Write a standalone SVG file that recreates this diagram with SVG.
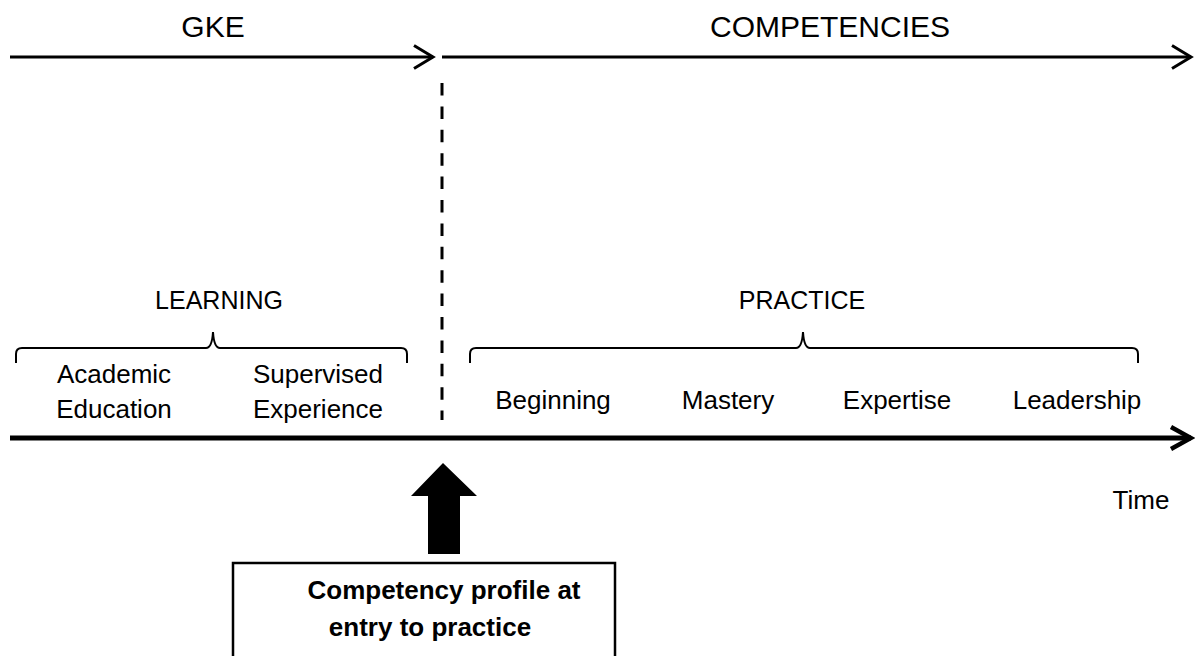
<svg xmlns="http://www.w3.org/2000/svg" width="1195" height="656" viewBox="0 0 1195 656">
  <style>
    .t { font-family: "Liberation Sans", Arial, sans-serif; fill: #000; text-anchor: middle; }
    .h { font-size: 30px; }
    .m { font-size: 25px; }
    .s { font-size: 26px; }
    .b { font-size: 26px; font-weight: bold; }
    .ln { fill: none; stroke: #000; }
    .brace { fill: none; stroke: #000; stroke-width: 2; }
  </style>
  <defs>
    <marker id="chevTop" markerUnits="userSpaceOnUse" markerWidth="40" markerHeight="40" refX="0" refY="0" orient="auto" overflow="visible">
      <path d="M-19,-11.5 L0,0 L-19,11.5" fill="none" stroke="#000" stroke-width="3"/>
    </marker>
    <marker id="chevAxis" markerUnits="userSpaceOnUse" markerWidth="40" markerHeight="40" refX="0" refY="0" orient="auto" overflow="visible">
      <path d="M-20,-11 L0,0 L-20,11" fill="none" stroke="#000" stroke-width="4.5"/>
    </marker>
  </defs>
  <rect width="1195" height="656" fill="#fff"/>

  <g id="connectors">
    <path class="ln" d="M10,57 L433,57" stroke-width="3" marker-end="url(#chevTop)"/>
    <path class="ln" d="M442,57 L1191,57" stroke-width="3" marker-end="url(#chevTop)"/>
    <path class="ln" d="M10,438 L1191,438" stroke-width="5" marker-end="url(#chevAxis)"/>
    <path class="ln" d="M442,83 L442,420" stroke-width="3" stroke-dasharray="12.5 10.9"/>
    <polygon id="entry-arrow" points="443,463 477,496 460,496 460,554 428,554 428,496 411,496" fill="#000"/>
  </g>

  <g id="title-gke">
    <text class="t h" x="213" y="37">GKE</text>
  </g>
  <g id="title-competencies">
    <text class="t h" x="830" y="37">COMPETENCIES</text>
  </g>

  <g id="learning">
    <text class="t m" x="219" y="309">LEARNING</text>
    <path class="brace" d="M16,363 L16,354 Q16,348 22,348 L206,348 Q212,348 213,332 Q214,348 220,348 L401,348 Q407,348 407,354 L407,363"/>
  </g>
  <g id="practice">
    <text class="t m" x="802" y="309">PRACTICE</text>
    <path class="brace" d="M470,363 L470,354 Q470,348 476,348 L796,348 Q802,348 803,332 Q804,348 810,348 L1132,348 Q1138,348 1138,354 L1138,363"/>
  </g>

  <g id="academic-education">
    <text class="t s" x="114" y="383">Academic</text>
    <text class="t s" x="114" y="418">Education</text>
  </g>
  <g id="supervised-experience">
    <text class="t s" x="318" y="383">Supervised</text>
    <text class="t s" x="318" y="418">Experience</text>
  </g>
  <g id="beginning">
    <text class="t s" x="553" y="409">Beginning</text>
  </g>
  <g id="mastery">
    <text class="t s" x="728" y="409">Mastery</text>
  </g>
  <g id="expertise">
    <text class="t s" x="897" y="409">Expertise</text>
  </g>
  <g id="leadership">
    <text class="t s" x="1077" y="409">Leadership</text>
  </g>
  <g id="time">
    <text class="t s" x="1141" y="509">Time</text>
  </g>

  <g id="competency-profile">
    <rect x="233" y="563" width="382" height="110" fill="#fff" stroke="#000" stroke-width="2.5"/>
    <text class="t b" x="444" y="599">Competency profile at</text>
    <text class="t b" x="430" y="636">entry to practice</text>
  </g>
</svg>
